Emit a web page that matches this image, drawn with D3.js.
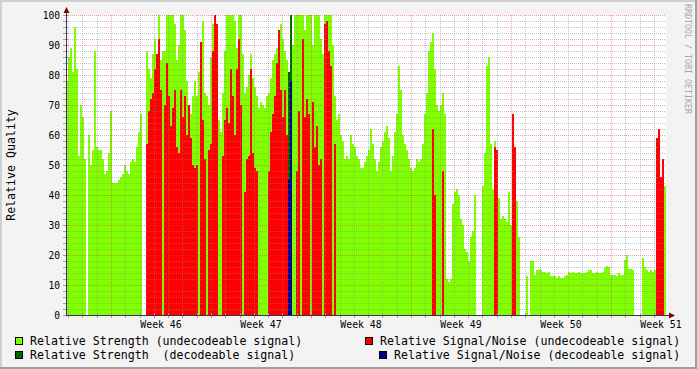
<!DOCTYPE html>
<html>
<head>
<meta charset="utf-8">
<script src="https://cdn.jsdelivr.net/npm/d3@7"></script>
<style>
  body { margin: 0; background: #f3f3f3; }
  svg text { font-family: "DejaVu Sans Mono", monospace; }
</style>
</head>
<body>
<svg id="chart" width="697" height="369"></svg>
<script>
// One sample every 2 hours-ish (42 days over 300 samples), starting Thu 5 Nov 2009 20:24 UTC
const startTime = Date.UTC(2009, 10, 5, 20, 24);
const spanDays = 42;

// Relative strength, undecodeable signal (lime)
const strengthUndecoded = [
  78,86,89,81,96,82,53,70,66,52,0,60,50,55,88,56,55,55,52,47,
  48,54,68,44,44,44,45,46,47,50,48,47,51,52,51,56,61,67,0,0,
  88,82,79,87,92,86,100,85,88,88,100,100,100,100,97,85,90,100,100,95,
  78,70,67,73,78,73,81,89,98,74,73,70,86,97,100,97,65,61,74,88,
  100,100,100,100,98,89,100,100,87,74,76,80,87,79,76,73,69,71,70,69,
  73,74,79,85,87,89,94,97,92,88,85,43,93,90,100,100,100,100,100,95,
  100,100,100,90,100,100,100,92,87,100,100,100,100,90,73,65,67,60,58,52,
  53,52,60,57,56,53,52,49,49,51,53,55,62,57,52,48,51,56,58,61,
  63,59,48,53,61,67,83,75,60,57,55,52,49,48,49,52,51,52,57,67,
  74,88,91,94,82,70,68,70,74,67,12,11,12,37,41,42,40,32,30,22,
  21,18,26,28,40,0,0,0,43,54,83,86,57,42,58,53,39,32,33,32,
  31,41,30,35,38,38,26,0,0,0,13,0,18,18,13.5,15,15,15,14.5,14.5,
  14,14.5,13,13,13,12.5,13,12.5,12.5,13,13.5,14.5,14,14.5,14,14,14.5,14,14,14,
  14.5,15,15,14,14,14.5,14,14,14.5,16,16.5,16,13.5,13.5,13.5,13,14,13.5,13.5,18.5,
  20,15.5,15.5,15,0,0,0,0,19,16,15,14.5,15,14.5,15,15,44,44,31,43
];

// Relative signal/noise, undecodeable signal (red)
const snrUndecoded = [
  0,0,0,0,0,0,0,0,0,0,0,0,0,0,0,0,0,0,0,0,
  0,0,0,0,0,0,0,0,0,0,0,0,0,0,0,0,0,0,0,0,
  57,68,72,74,82,87,92,75,0,70,84,73,63,69,75,56,54,75,66,73,
  60,70,59,50,49,50,0,91,65,52,0,55,57,88,100,97,0,0,53,65,
  69,64,82,73,60,82,92,70,0,41,52,53,82,54,49,48,0,0,0,0,
  0,48,61,67,73,84,95,75,66,75,60,0,0,0,0,48,68,0,92,66,
  72,67,0,71,56,63,50,52,0,97,98,88,83,0,57,0,0,0,0,0,
  0,0,0,0,0,0,0,0,0,0,0,0,0,0,0,0,0,0,0,0,
  0,0,0,0,0,0,0,0,0,0,0,0,0,0,0,0,0,0,0,0,
  0,0,0,62,40,0,0,0,48,0,0,0,0,0,0,0,0,0,0,0,
  0,0,0,0,0,0,0,0,0,0,0,0,0,0,56,55,0,0,0,0,
  0,0,0,67,56,0,0,0,0,0,0,0,0,0,0,0,0,0,0,0,
  0,0,0,0,0,0,0,0,0,0,0,0,0,0,0,0,0,0,0,0,
  0,0,0,0,0,0,0,0,0,0,0,0,0,0,0,0,0,0,0,0,
  0,0,0,0,0,0,0,0,0,0,0,0,0,0,0,59,62,46,52,0
];

// The only decodeable samples (sample index, values)
const decodedSamples = [111, 112];
const strengthDecoded = [81, 100];
const snrDecoded = [45, 78];

const legendItems = [
  { label: 'Relative Strength (undecodeable signal)', color: '#80ff00' },
  { label: 'Relative Strength  (decodeable signal)', color: '#006400' },
  { label: 'Relative Signal/Noise (undecodeable signal)', color: '#ff0000' },
  { label: 'Relative Signal/Noise (decodeable signal)', color: '#000090' },
];

const W = 697, H = 369;
const plot = { left: 66, right: 666, top: 15, bottom: 315 };
const DAY = 864e5;
const endTime = startTime + spanDays * DAY;
const step = (endTime - startTime) / strengthUndecoded.length;
const timeAt = i => new Date(startTime + i * step);

const svg = d3.select('#chart');

const x = d3.scaleUtc().domain([startTime, endTime]).range([plot.left, plot.right]);
const y = d3.scaleLinear().domain([0, 100]).range([plot.bottom, plot.top]);

// Frame and canvas
svg.append('rect').attr('width', W).attr('height', H).attr('fill', '#f3f3f3');
svg.append('path').attr('d', `M0,${H} V0 H${W}`).attr('fill', 'none')
  .attr('stroke', '#cfcfcf').attr('stroke-width', 4);
svg.append('path').attr('d', `M0,${H} H${W} V0`).attr('fill', 'none')
  .attr('stroke', '#9e9e9e').attr('stroke-width', 4);
svg.append('rect').attr('x', plot.left).attr('y', plot.top)
  .attr('width', plot.right - plot.left).attr('height', plot.bottom - plot.top)
  .attr('fill', '#ffffff');

// Series, drawn as step areas in rrdtool order
const toSeries = values => {
  const pts = values.map((v, i) => ({ t: timeAt(i), v }));
  pts.push({ t: timeAt(values.length), v: values[values.length - 1] });
  return pts;
};
const sparseSeries = (idx, values) => {
  const full = strengthUndecoded.map(() => 0);
  idx.forEach((k, j) => { full[k] = values[j]; });
  return full;
};

const area = d3.area()
  .x(d => x(d.t))
  .y0(y(0))
  .y1(d => y(d.v))
  .curve(d3.curveStepAfter);

const layers = [
  { values: strengthUndecoded, color: legendItems[0].color },
  { values: sparseSeries(decodedSamples, strengthDecoded), color: legendItems[1].color },
  { values: snrUndecoded, color: legendItems[2].color },
  { values: sparseSeries(decodedSamples, snrDecoded), color: legendItems[3].color },
];

svg.append('g').selectAll('path').data(layers).join('path')
  .attr('d', d => area(toSeries(d.values)))
  .attr('fill', d => d.color)
  .attr('shape-rendering', 'crispEdges');

// Grid (dotted, drawn over the data like rrdtool)
const grid = svg.append('g').attr('shape-rendering', 'crispEdges').attr('stroke-dasharray', '1,1');
const minorColor = 'rgba(140,140,140,0.5)';
const majorColor = 'rgba(222,48,48,0.45)';
const px = v => Math.round(v) + 0.5;

const days = d3.utcDay.range(new Date(startTime), new Date(endTime));
const mondays = d3.utcMonday.range(new Date(startTime), new Date(endTime));
const mondaySet = new Set(mondays.map(d => +d));

grid.selectAll('line.vminor').data(days.filter(d => !mondaySet.has(+d))).join('line')
  .attr('class', 'vminor')
  .attr('x1', d => px(x(d))).attr('x2', d => px(x(d)))
  .attr('y1', plot.top).attr('y2', plot.bottom)
  .attr('stroke', minorColor);

const yMinor = d3.range(2, 100, 2).filter(v => v % 10 !== 0);
grid.selectAll('line.hminor').data(yMinor).join('line')
  .attr('class', 'hminor')
  .attr('x1', plot.left).attr('x2', plot.right)
  .attr('y1', d => px(y(d))).attr('y2', d => px(y(d)))
  .attr('stroke', minorColor);

grid.selectAll('line.vmajor').data(mondays).join('line')
  .attr('class', 'vmajor')
  .attr('x1', d => px(x(d))).attr('x2', d => px(x(d)))
  .attr('y1', plot.top).attr('y2', plot.bottom)
  .attr('stroke', majorColor);

const yMajor = d3.range(10, 101, 10);
grid.selectAll('line.hmajor').data(yMajor).join('line')
  .attr('class', 'hmajor')
  .attr('x1', plot.left).attr('x2', plot.right)
  .attr('y1', d => px(y(d))).attr('y2', d => px(y(d)))
  .attr('stroke', majorColor);

// Axis ticks and lines
const axisColor = '#3c3458';
const ticks = svg.append('g').attr('shape-rendering', 'crispEdges');
ticks.selectAll('line.xt').data(days).join('line')
  .attr('x1', d => px(x(d))).attr('x2', d => px(x(d)))
  .attr('y1', plot.bottom - 2).attr('y2', plot.bottom + 3)
  .attr('stroke', d => mondaySet.has(+d) ? '#d08080' : '#a0a0a0');
ticks.selectAll('line.yt').data(d3.range(0, 101, 2)).join('line')
  .attr('x1', plot.left - 3).attr('x2', plot.left + 2)
  .attr('y1', d => px(y(d))).attr('y2', d => px(y(d)))
  .attr('stroke', d => d % 10 === 0 ? '#d08080' : '#a0a0a0');

svg.append('line')
  .attr('x1', plot.left - 0.5 + 0.5).attr('x2', plot.right + 4)
  .attr('y1', plot.bottom + 0.5).attr('y2', plot.bottom + 0.5)
  .attr('stroke', axisColor).attr('shape-rendering', 'crispEdges');
svg.append('line')
  .attr('x1', plot.left + 0.5).attr('x2', plot.left + 0.5)
  .attr('y1', plot.bottom + 1).attr('y2', plot.top - 3)
  .attr('stroke', axisColor).attr('shape-rendering', 'crispEdges');

// Arrows
svg.append('path')
  .attr('d', `M${plot.right + 3},${plot.bottom - 2.5} L${plot.right + 9},${plot.bottom + 0.5} L${plot.right + 3},${plot.bottom + 3.5}Z`)
  .attr('fill', '#7f0000');
svg.append('path')
  .attr('d', `M${plot.left - 2.5},${plot.top - 2} L${plot.left + 0.5},${plot.top - 8} L${plot.left + 3.5},${plot.top - 2}Z`)
  .attr('fill', '#7f0000');

// Tick labels
svg.append('g').selectAll('text').data(d3.range(0, 101, 10)).join('text')
  .attr('x', plot.left - 6).attr('y', d => y(d) + 3.5)
  .attr('text-anchor', 'end').attr('font-size', 9.6).attr('fill', '#000')
  .text(d => d);

const weekFmt = d3.utcFormat('%V');
svg.append('g').selectAll('text').data(mondays).join('text')
  .attr('x', d => x(new Date(+d + 3.5 * DAY))).attr('y', plot.bottom + 13)
  .attr('text-anchor', 'middle').attr('font-size', 9.8).attr('fill', '#000')
  .text(d => 'Week ' + weekFmt(d));

// Y axis title
svg.append('text')
  .attr('transform', `translate(15,${(plot.top + plot.bottom) / 2}) rotate(-90)`)
  .attr('text-anchor', 'middle').attr('font-size', 11.6).attr('fill', '#000')
  .text('Relative Quality');

// Watermark
svg.append('text')
  .attr('transform', 'translate(685,4) rotate(90)')
  .attr('font-size', 8.3).attr('fill', '#a8a8a8')
  .text('RRDTOOL / TOBI OETIKER');

// Legend
const legendPos = [
  { bx: 15, tx: 30, y: 345 },
  { bx: 15, tx: 30, y: 359 },
  { bx: 365, tx: 380, y: 345 },
  { bx: 379, tx: 394, y: 359 },
];
const legend = svg.append('g').selectAll('g').data(legendItems).join('g');
legend.append('rect')
  .attr('x', (d, i) => legendPos[i].bx + 0.5).attr('y', (d, i) => legendPos[i].y - 7.5)
  .attr('width', 7).attr('height', 7)
  .attr('fill', d => d.color).attr('stroke', '#000').attr('shape-rendering', 'crispEdges');
legend.append('text')
  .attr('x', (d, i) => legendPos[i].tx).attr('y', (d, i) => legendPos[i].y)
  .attr('font-size', 11.6).attr('fill', '#000')
  .attr('xml:space', 'preserve').style('white-space', 'pre')
  .text(d => d.label);
</script>
</body>
</html>
